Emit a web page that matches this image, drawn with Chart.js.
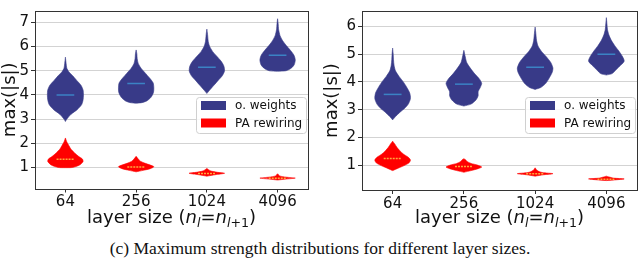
<!DOCTYPE html>
<html>
<head>
<meta charset="utf-8">
<script src="https://cdn.jsdelivr.net/npm/chart.js@4.4.1/dist/chart.umd.min.js"></script>
<style>
  body { margin: 0; background: #fff; width: 640px; height: 265px; position: relative; overflow: hidden; }
  .panel { position: absolute; top: 0; width: 320px; height: 235px; }
  #caption { position: absolute; left: 0; top: 238px; width: 640px; text-align: center;
             font-family: 'Liberation Serif', serif; font-size: 17.5px; color: #111; }
</style>
</head>
<body>
<div class="panel" style="left:0"><canvas id="left-chart" width="320" height="235"></canvas></div>
<div class="panel" style="left:320px"><canvas id="right-chart" width="320" height="235"></canvas></div>
<div id="caption">(c) Maximum strength distributions for different layer sizes.</div>
<script>
const layerSizes = ['64', '256', '1024', '4096'];
const seriesNames = ['o. weights', 'PA rewiring'];
const seriesColors = ['#383a88', '#ff0000'];
const medianColors = ['#3b82c4', '#ffa83c'];
const leftYTicks = [1, 2, 3, 4, 5, 6, 7];
const rightYTicks = [1, 2, 3, 4, 5, 6];

// violin outlines: [value, half width] from bottom to top, one per layer size
const leftWeights = [
  [[2.9,0],[3.0,0.02],[3.2,0.08],[3.4,0.17],[3.6,0.23],[3.8,0.25],[4.0,0.255],[4.2,0.25],[4.4,0.22],[4.6,0.16],[4.8,0.1],[4.95,0.05],[5.1,0.02],[5.3,0.01],[5.56,0]],
  [[3.66,0],[3.68,0.08],[3.75,0.15],[3.9,0.21],[4.1,0.245],[4.3,0.25],[4.5,0.24],[4.7,0.19],[4.9,0.13],[5.1,0.07],[5.3,0.03],[5.5,0.015],[5.7,0.01],[5.86,0]],
  [[4.06,0],[4.2,0.04],[4.4,0.1],[4.6,0.16],[4.8,0.22],[5.0,0.25],[5.2,0.24],[5.4,0.2],[5.6,0.14],[5.8,0.08],[6.0,0.04],[6.2,0.02],[6.5,0.01],[6.72,0]],
  [[4.98,0],[5.0,0.12],[5.1,0.19],[5.25,0.235],[5.45,0.25],[5.65,0.23],[5.85,0.18],[6.05,0.12],[6.25,0.07],[6.45,0.035],[6.7,0.015],[6.95,0.008],[7.15,0]]
];
const leftWeightsMedian = [4.0, 4.47, 5.14, 5.64];
const leftRewiring = [
  [[0.99,0],[1.0,0.1],[1.1,0.2],[1.25,0.25],[1.35,0.24],[1.45,0.19],[1.6,0.13],[1.75,0.08],[1.9,0.05],[2.05,0.02],[2.22,0]],
  [[0.82,0],[0.88,0.1],[0.95,0.2],[1.03,0.25],[1.1,0.2],[1.18,0.12],[1.26,0.06],[1.35,0.03],[1.46,0]],
  [[0.64,0],[0.7,0.12],[0.76,0.25],[0.8,0.15],[0.86,0.05],[0.96,0]],
  [[0.48,0],[0.52,0.12],[0.56,0.25],[0.6,0.12],[0.65,0.03],[0.74,0]]
];
const leftRewiringMedian = [1.34, 1.02, 0.75, 0.55];

const rightWeights = [
  [[2.63,0],[2.75,0.04],[2.9,0.1],[3.05,0.17],[3.2,0.22],[3.4,0.25],[3.6,0.24],[3.8,0.2],[4.0,0.15],[4.2,0.09],[4.4,0.04],[4.6,0.02],[4.8,0.012],[5.0,0.008],[5.22,0]],
  [[3.13,0],[3.2,0.1],[3.35,0.17],[3.5,0.2],[3.65,0.2],[3.8,0.23],[3.95,0.25],[4.1,0.22],[4.3,0.15],[4.5,0.09],[4.7,0.04],[4.9,0.02],[5.14,0]],
  [[3.73,0],[3.8,0.08],[3.95,0.15],[4.15,0.2],[4.35,0.24],[4.5,0.25],[4.7,0.22],[4.9,0.16],[5.1,0.09],[5.3,0.04],[5.5,0.02],[5.75,0.01],[5.98,0]],
  [[4.25,0],[4.3,0.08],[4.45,0.14],[4.6,0.2],[4.75,0.25],[4.9,0.23],[5.1,0.18],[5.3,0.12],[5.5,0.07],[5.7,0.035],[5.9,0.015],[6.1,0.008],[6.32,0]]
];
const rightWeightsMedian = [3.55, 3.92, 4.53, 5.0];
const rightRewiring = [
  [[0.8,0],[0.88,0.07],[0.98,0.16],[1.08,0.23],[1.18,0.25],[1.28,0.22],[1.4,0.15],[1.52,0.1],[1.64,0.06],[1.76,0.03],[1.86,0]],
  [[0.74,0],[0.8,0.1],[0.87,0.2],[0.93,0.25],[1.0,0.19],[1.06,0.1],[1.12,0.05],[1.2,0.02],[1.23,0]],
  [[0.6,0],[0.65,0.12],[0.69,0.25],[0.73,0.1],[0.8,0.03],[0.9,0]],
  [[0.44,0],[0.47,0.15],[0.5,0.25],[0.53,0.1],[0.57,0.04],[0.6,0]]
];
const rightRewiringMedian = [1.24, 0.95, 0.69, 0.49];

function violinOutline(knots, pos) {
  const up = knots.map(k => ({ x: pos - k[1], y: k[0] }));
  const down = knots.slice().reverse().map(k => ({ x: pos + k[1], y: k[0] }));
  return up.concat(down);
}

function buildDatasets(groups, medians) {
  const sets = [];
  groups.forEach((violins, s) => {
    violins.forEach((knots, i) => {
      sets.push({
        data: violinOutline(knots, i + 1),
        showLine: true,
        fill: 'shape',
        backgroundColor: seriesColors[s],
        borderColor: seriesColors[s],
        borderWidth: 0.6,
        pointRadius: 0,
        tension: 0.25,
        order: 2
      });
    });
  });
  // median ticks, a quarter of a category wide, drawn over the bodies
  medians.forEach((meds, s) => {
    meds.forEach((m, i) => {
      sets.push({
        data: [{ x: i + 0.875, y: m }, { x: i + 1.125, y: m }],
        showLine: true,
        fill: false,
        borderColor: medianColors[s],
        borderWidth: 1.5,
        borderDash: s === 1 ? [2, 1] : [],
        pointRadius: 0,
        order: 1
      });
    });
  });
  return sets;
}

// frame, legend box and the x axis title with subscripts
const decor = {
  id: 'decor',
  afterDraw(chart, args, opts) {
    const ctx = chart.ctx;
    const ca = chart.chartArea;
    ctx.save();

    ctx.strokeStyle = '#333';
    ctx.lineWidth = 1;
    ctx.strokeRect(Math.round(ca.left) + 0.5, Math.round(ca.top) + 0.5,
                   Math.round(ca.right - ca.left), Math.round(ca.bottom - ca.top));

    // legend
    const w = 110, h = 36;
    const bx = ca.right - 2 - w, by = opts.legendTop;
    ctx.fillStyle = 'rgba(255,255,255,0.85)';
    ctx.strokeStyle = '#d0d0d0';
    ctx.beginPath();
    ctx.roundRect(bx + 0.5, by + 0.5, w, h, 3);
    ctx.fill();
    ctx.stroke();
    ctx.font = '12px "DejaVu Sans"';
    ctx.textBaseline = 'middle';
    seriesNames.forEach((name, i) => {
      const cy = by + 8.5 + i * 17.5;
      ctx.fillStyle = seriesColors[i];
      ctx.fillRect(bx + 5, cy - 4.5, 25, 9);
      ctx.fillStyle = '#111';
      ctx.fillText(name, bx + 39, cy + 0.5);
    });

    // x title: layer size (n_l = n_{l+1})
    const big = 18, small = 12.6;
    const parts = [
      { t: 'layer size (', f: big + 'px "DejaVu Sans"', dy: 0 },
      { t: 'n', f: 'italic ' + big + 'px "DejaVu Sans"', dy: 0 },
      { t: 'l', f: 'italic ' + small + 'px "DejaVu Sans"', dy: 3.5 },
      { t: '=', f: big + 'px "DejaVu Sans"', dy: 0 },
      { t: 'n', f: 'italic ' + big + 'px "DejaVu Sans"', dy: 0 },
      { t: 'l', f: 'italic ' + small + 'px "DejaVu Sans"', dy: 3.5 },
      { t: '+1', f: small + 'px "DejaVu Sans"', dy: 3.5 },
      { t: ')', f: big + 'px "DejaVu Sans"', dy: 0 }
    ];
    let total = 0;
    parts.forEach(p => { ctx.font = p.f; p.w = ctx.measureText(p.t).width; total += p.w; });
    let x = (ca.left + ca.right) / 2 - total / 2;
    const base = opts.titleBaseline;
    ctx.fillStyle = '#111';
    ctx.textBaseline = 'alphabetic';
    parts.forEach(p => { ctx.font = p.f; ctx.fillText(p.t, x, base + p.dy); x += p.w; });
    ctx.restore();
  }
};

function makeChart(id, groups, medians, yTicks, cfg) {
  return new Chart(document.getElementById(id), {
    type: 'scatter',
    data: { datasets: buildDatasets(groups, medians) },
    plugins: [decor],
    options: {
      responsive: false,
      animation: false,
      layout: { padding: cfg.padding },
      plugins: {
        legend: { display: false },
        tooltip: { enabled: false },
        decor: { legendTop: cfg.legendTop, titleBaseline: cfg.titleBaseline }
      },
      scales: {
        x: {
          type: 'linear',
          min: 0.57,
          max: 4.43,
          afterBuildTicks: s => { s.ticks = layerSizes.map((_, i) => ({ value: i + 1 })); },
          afterFit: s => { s.height = cfg.xHeight; },
          ticks: {
            callback: v => layerSizes[v - 1],
            font: { family: 'DejaVu Sans', size: 15 },
            color: '#111',
            padding: 1,
            maxRotation: 0,
            autoSkip: false
          },
          grid: { display: true, drawOnChartArea: false, drawTicks: true, tickLength: 4, tickColor: '#333' },
          border: { display: false }
        },
        y: {
          min: cfg.yMin,
          max: cfg.yMax,
          z: 1,
          afterBuildTicks: s => { s.ticks = yTicks.map(v => ({ value: v })); },
          afterFit: s => { s.width = cfg.yWidth; },
          ticks: {
            font: { family: 'DejaVu Sans', size: 15 },
            color: '#111',
            padding: 2
          },
          grid: { color: 'rgba(200,200,200,0.8)', lineWidth: 1, tickColor: '#333', tickLength: 4 },
          border: { display: false },
          title: {
            display: true,
            text: 'max(|s|)',
            font: { family: 'DejaVu Sans', size: 18 },
            color: '#111',
            padding: { top: cfg.yTitlePad, bottom: 0 }
          }
        }
      }
    }
  });
}

makeChart('left-chart', [leftWeights, leftRewiring], [leftWeightsMedian, leftRewiringMedian], leftYTicks, {
  padding: { left: 0, right: 12, top: 2, bottom: 0 },
  yMin: 0.13, yMax: 7.47, yWidth: 35, xHeight: 46.5, yTitlePad: 0,
  legendTop: 97, titleBaseline: 223
});

makeChart('right-chart', [rightWeights, rightRewiring], [rightWeightsMedian, rightRewiringMedian], rightYTicks, {
  padding: { left: 0, right: 3, top: 3, bottom: 0 },
  yMin: 0.1, yMax: 6.56, yWidth: 42, xHeight: 45, yTitlePad: 2,
  legendTop: 97, titleBaseline: 223
});
</script>
</body>
</html>
